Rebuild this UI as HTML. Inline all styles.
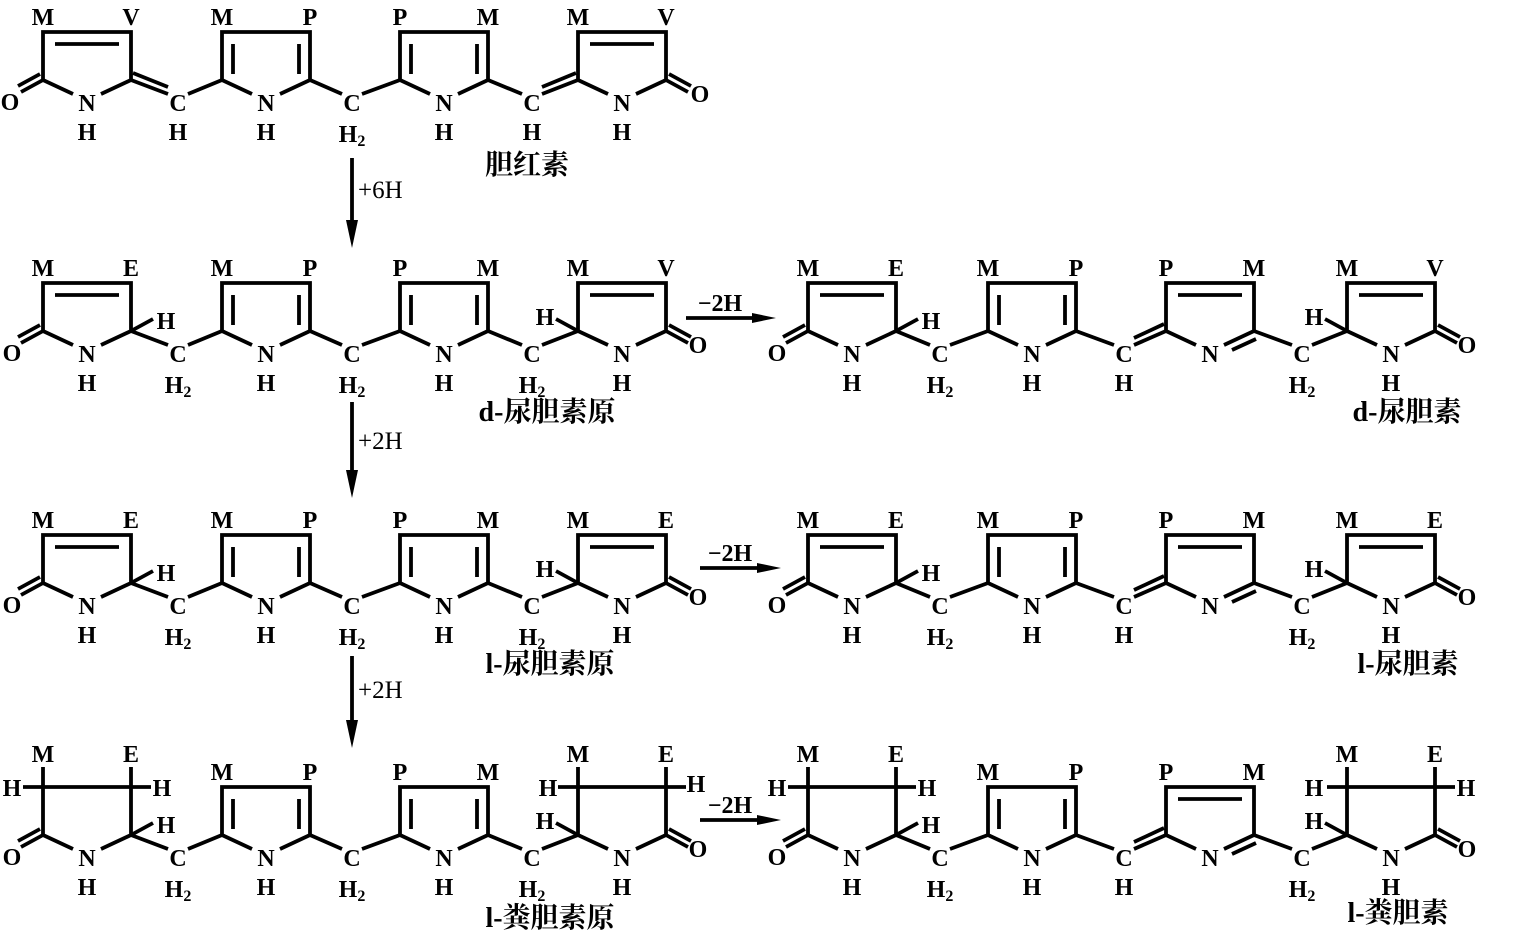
<!DOCTYPE html>
<html><head><meta charset="utf-8"><style>
html,body{margin:0;padding:0;background:#fff;}
svg{display:block;}
.t{font-family:"Liberation Serif",serif;font-weight:bold;font-size:24px;text-anchor:middle;fill:#000;}
.s{font-size:16px;}
.cn{font-family:"Liberation Serif","Noto Serif CJK SC","Noto Sans CJK SC",serif;font-size:28px;font-weight:bold;text-anchor:middle;fill:#000;}
.l{stroke:#000;stroke-width:3.8;fill:none;stroke-linejoin:miter;}
</style></head><body>
<svg width="1522" height="936" viewBox="0 0 1522 936" xmlns="http://www.w3.org/2000/svg">
<defs>
<path id="ring" class="l" d="M0,48 V0 H88 V48 M0,48 L30,62 M88,48 L58,62"/>
<path id="satring" class="l" d="M0,48 V-20 M88,48 V-20 M-20,0 H108 M0,48 L30,62 M88,48 L58,62"/>
<path id="dtop" class="l" d="M12,12 H76"/>
<path id="dsides" class="l" d="M11,12 V42 M77,12 V42"/>
<path id="lacL" class="l" d="M0,48 L-22,60 M-3,42 L-25,54"/>
<path id="lacR" class="l" d="M88,48 L110,60 M91,42 L113,54"/>
<path id="brH" class="l" d="M88,48 L110,36"/>
<path id="blH" class="l" d="M0,48 L-22,36"/>
<path id="imine" class="l" d="M90,56 L66,67"/>
</defs>

<!-- ROW 1 -->
<g transform="translate(0,32)">
<use href="#ring" x="43"/><use href="#dtop" x="43"/><use href="#lacL" x="43"/>
<use href="#ring" x="222"/><use href="#dsides" x="222"/>
<use href="#ring" x="400"/><use href="#dsides" x="400"/>
<use href="#ring" x="578"/><use href="#dtop" x="578"/><use href="#lacR" x="578"/>
<path class="l" d="M131,48 L168,62 M188,62 L222,48 M133,41 L168,55 M310,48 L342,62 M362,62 L400,48 M488,48 L522,62 M542,62 L578,48 M542,55 L576,41"/>
<text class="t" x="43" y="-7">M</text><text class="t" x="131" y="-7">V</text>
<text class="t" x="222" y="-7">M</text><text class="t" x="310" y="-7">P</text>
<text class="t" x="400" y="-7">P</text><text class="t" x="488" y="-7">M</text>
<text class="t" x="578" y="-7">M</text><text class="t" x="666" y="-7">V</text>
<text class="t" x="10" y="78">O</text><text class="t" x="700" y="70">O</text>
<text class="t" x="87" y="79">N</text><text class="t" x="87" y="108">H</text>
<text class="t" x="266" y="79">N</text><text class="t" x="266" y="108">H</text>
<text class="t" x="444" y="79">N</text><text class="t" x="444" y="108">H</text>
<text class="t" x="622" y="79">N</text><text class="t" x="622" y="108">H</text>
<text class="t" x="178" y="79">C</text><text class="t" x="178" y="108">H</text>
<text class="t" x="352" y="79">C</text><text class="t" x="352" y="110">H<tspan class="s" dy="4">2</tspan></text>
<text class="t" x="532" y="79">C</text><text class="t" x="532" y="108">H</text>
</g>
<text class="cn" x="527" y="174">胆红素</text>

<!-- ROW 2 -->
<g transform="translate(0,283)">
<use href="#ring" x="43"/><use href="#dtop" x="43"/><use href="#lacL" x="43"/><use href="#brH" x="43"/>
<use href="#ring" x="222"/><use href="#dsides" x="222"/>
<use href="#ring" x="400"/><use href="#dsides" x="400"/>
<use href="#ring" x="578"/><use href="#dtop" x="578"/><use href="#lacR" x="578"/><use href="#blH" x="578"/>
<path class="l" d="M131,48 L168,62 M188,62 L222,48 M310,48 L342,62 M362,62 L400,48 M488,48 L522,62 M542,62 L578,48"/>
<text class="t" x="43" y="-7">M</text><text class="t" x="131" y="-7">E</text>
<text class="t" x="222" y="-7">M</text><text class="t" x="310" y="-7">P</text>
<text class="t" x="400" y="-7">P</text><text class="t" x="488" y="-7">M</text>
<text class="t" x="578" y="-7">M</text><text class="t" x="666" y="-7">V</text>
<text class="t" x="12" y="78">O</text><text class="t" x="698" y="70">O</text>
<text class="t" x="166" y="46">H</text><text class="t" x="545" y="42">H</text>
<text class="t" x="87" y="79">N</text><text class="t" x="87" y="108">H</text>
<text class="t" x="266" y="79">N</text><text class="t" x="266" y="108">H</text>
<text class="t" x="444" y="79">N</text><text class="t" x="444" y="108">H</text>
<text class="t" x="622" y="79">N</text><text class="t" x="622" y="108">H</text>
<text class="t" x="178" y="79">C</text><text class="t" x="178" y="110">H<tspan class="s" dy="4">2</tspan></text>
<text class="t" x="352" y="79">C</text><text class="t" x="352" y="110">H<tspan class="s" dy="4">2</tspan></text>
<text class="t" x="532" y="79">C</text><text class="t" x="532" y="110">H<tspan class="s" dy="4">2</tspan></text>
<use href="#ring" x="808"/><use href="#dtop" x="808"/><use href="#lacL" x="808"/><use href="#brH" x="808"/>
<use href="#ring" x="988"/><use href="#dsides" x="988"/>
<use href="#ring" x="1166"/><use href="#dtop" x="1166"/><use href="#imine" x="1166"/>
<use href="#ring" x="1347"/><use href="#dtop" x="1347"/><use href="#lacR" x="1347"/><use href="#blH" x="1347"/>
<path class="l" d="M896,48 L930,62 M950,62 L988,48 M1076,48 L1114,62 M1134,62 L1166,48 M1134,55 L1164,41 M1254,48 L1292,62 M1312,62 L1347,48"/>
<text class="t" x="808" y="-7">M</text><text class="t" x="896" y="-7">E</text>
<text class="t" x="988" y="-7">M</text><text class="t" x="1076" y="-7">P</text>
<text class="t" x="1166" y="-7">P</text><text class="t" x="1254" y="-7">M</text>
<text class="t" x="1347" y="-7">M</text><text class="t" x="1435" y="-7">V</text>
<text class="t" x="777" y="78">O</text><text class="t" x="1467" y="70">O</text>
<text class="t" x="931" y="46">H</text><text class="t" x="1314" y="42">H</text>
<text class="t" x="852" y="79">N</text><text class="t" x="852" y="108">H</text>
<text class="t" x="1032" y="79">N</text><text class="t" x="1032" y="108">H</text>
<text class="t" x="1210" y="79">N</text>
<text class="t" x="1391" y="79">N</text><text class="t" x="1391" y="108">H</text>
<text class="t" x="940" y="79">C</text><text class="t" x="940" y="110">H<tspan class="s" dy="4">2</tspan></text>
<text class="t" x="1124" y="79">C</text><text class="t" x="1124" y="108">H</text>
<text class="t" x="1302" y="79">C</text><text class="t" x="1302" y="110">H<tspan class="s" dy="4">2</tspan></text>
</g>
<text class="cn" x="547" y="421">d-尿胆素原</text>
<text class="cn" x="1407" y="421">d-尿胆素</text>

<!-- ROW 3 -->
<g transform="translate(0,535)">
<use href="#ring" x="43"/><use href="#dtop" x="43"/><use href="#lacL" x="43"/><use href="#brH" x="43"/>
<use href="#ring" x="222"/><use href="#dsides" x="222"/>
<use href="#ring" x="400"/><use href="#dsides" x="400"/>
<use href="#ring" x="578"/><use href="#dtop" x="578"/><use href="#lacR" x="578"/><use href="#blH" x="578"/>
<path class="l" d="M131,48 L168,62 M188,62 L222,48 M310,48 L342,62 M362,62 L400,48 M488,48 L522,62 M542,62 L578,48"/>
<text class="t" x="43" y="-7">M</text><text class="t" x="131" y="-7">E</text>
<text class="t" x="222" y="-7">M</text><text class="t" x="310" y="-7">P</text>
<text class="t" x="400" y="-7">P</text><text class="t" x="488" y="-7">M</text>
<text class="t" x="578" y="-7">M</text><text class="t" x="666" y="-7">E</text>
<text class="t" x="12" y="78">O</text><text class="t" x="698" y="70">O</text>
<text class="t" x="166" y="46">H</text><text class="t" x="545" y="42">H</text>
<text class="t" x="87" y="79">N</text><text class="t" x="87" y="108">H</text>
<text class="t" x="266" y="79">N</text><text class="t" x="266" y="108">H</text>
<text class="t" x="444" y="79">N</text><text class="t" x="444" y="108">H</text>
<text class="t" x="622" y="79">N</text><text class="t" x="622" y="108">H</text>
<text class="t" x="178" y="79">C</text><text class="t" x="178" y="110">H<tspan class="s" dy="4">2</tspan></text>
<text class="t" x="352" y="79">C</text><text class="t" x="352" y="110">H<tspan class="s" dy="4">2</tspan></text>
<text class="t" x="532" y="79">C</text><text class="t" x="532" y="110">H<tspan class="s" dy="4">2</tspan></text>
<use href="#ring" x="808"/><use href="#dtop" x="808"/><use href="#lacL" x="808"/><use href="#brH" x="808"/>
<use href="#ring" x="988"/><use href="#dsides" x="988"/>
<use href="#ring" x="1166"/><use href="#dtop" x="1166"/><use href="#imine" x="1166"/>
<use href="#ring" x="1347"/><use href="#dtop" x="1347"/><use href="#lacR" x="1347"/><use href="#blH" x="1347"/>
<path class="l" d="M896,48 L930,62 M950,62 L988,48 M1076,48 L1114,62 M1134,62 L1166,48 M1134,55 L1164,41 M1254,48 L1292,62 M1312,62 L1347,48"/>
<text class="t" x="808" y="-7">M</text><text class="t" x="896" y="-7">E</text>
<text class="t" x="988" y="-7">M</text><text class="t" x="1076" y="-7">P</text>
<text class="t" x="1166" y="-7">P</text><text class="t" x="1254" y="-7">M</text>
<text class="t" x="1347" y="-7">M</text><text class="t" x="1435" y="-7">E</text>
<text class="t" x="777" y="78">O</text><text class="t" x="1467" y="70">O</text>
<text class="t" x="931" y="46">H</text><text class="t" x="1314" y="42">H</text>
<text class="t" x="852" y="79">N</text><text class="t" x="852" y="108">H</text>
<text class="t" x="1032" y="79">N</text><text class="t" x="1032" y="108">H</text>
<text class="t" x="1210" y="79">N</text>
<text class="t" x="1391" y="79">N</text><text class="t" x="1391" y="108">H</text>
<text class="t" x="940" y="79">C</text><text class="t" x="940" y="110">H<tspan class="s" dy="4">2</tspan></text>
<text class="t" x="1124" y="79">C</text><text class="t" x="1124" y="108">H</text>
<text class="t" x="1302" y="79">C</text><text class="t" x="1302" y="110">H<tspan class="s" dy="4">2</tspan></text>
</g>
<text class="cn" x="550" y="673">l-尿胆素原</text>
<text class="cn" x="1408" y="673">l-尿胆素</text>

<!-- ROW 4 -->
<g transform="translate(0,787)">
<use href="#satring" x="43"/><use href="#lacL" x="43"/><use href="#brH" x="43"/>
<use href="#ring" x="222"/><use href="#dsides" x="222"/>
<use href="#ring" x="400"/><use href="#dsides" x="400"/>
<use href="#satring" x="578"/><use href="#lacR" x="578"/><use href="#blH" x="578"/>
<path class="l" d="M131,48 L168,62 M188,62 L222,48 M310,48 L342,62 M362,62 L400,48 M488,48 L522,62 M542,62 L578,48"/>
<text class="t" x="43" y="-25">M</text><text class="t" x="131" y="-25">E</text>
<text class="t" x="222" y="-7">M</text><text class="t" x="310" y="-7">P</text>
<text class="t" x="400" y="-7">P</text><text class="t" x="488" y="-7">M</text>
<text class="t" x="578" y="-25">M</text><text class="t" x="666" y="-25">E</text>
<text class="t" x="12" y="9">H</text><text class="t" x="162" y="9">H</text>
<text class="t" x="548" y="9">H</text><text class="t" x="696" y="5">H</text>
<text class="t" x="12" y="78">O</text><text class="t" x="698" y="70">O</text>
<text class="t" x="166" y="46">H</text><text class="t" x="545" y="42">H</text>
<text class="t" x="87" y="79">N</text><text class="t" x="87" y="108">H</text>
<text class="t" x="266" y="79">N</text><text class="t" x="266" y="108">H</text>
<text class="t" x="444" y="79">N</text><text class="t" x="444" y="108">H</text>
<text class="t" x="622" y="79">N</text><text class="t" x="622" y="108">H</text>
<text class="t" x="178" y="79">C</text><text class="t" x="178" y="110">H<tspan class="s" dy="4">2</tspan></text>
<text class="t" x="352" y="79">C</text><text class="t" x="352" y="110">H<tspan class="s" dy="4">2</tspan></text>
<text class="t" x="532" y="79">C</text><text class="t" x="532" y="110">H<tspan class="s" dy="4">2</tspan></text>
<use href="#satring" x="808"/><use href="#lacL" x="808"/><use href="#brH" x="808"/>
<use href="#ring" x="988"/><use href="#dsides" x="988"/>
<use href="#ring" x="1166"/><use href="#dtop" x="1166"/><use href="#imine" x="1166"/>
<use href="#satring" x="1347"/><use href="#lacR" x="1347"/><use href="#blH" x="1347"/>
<path class="l" d="M896,48 L930,62 M950,62 L988,48 M1076,48 L1114,62 M1134,62 L1166,48 M1134,55 L1164,41 M1254,48 L1292,62 M1312,62 L1347,48"/>
<text class="t" x="808" y="-25">M</text><text class="t" x="896" y="-25">E</text>
<text class="t" x="988" y="-7">M</text><text class="t" x="1076" y="-7">P</text>
<text class="t" x="1166" y="-7">P</text><text class="t" x="1254" y="-7">M</text>
<text class="t" x="1347" y="-25">M</text><text class="t" x="1435" y="-25">E</text>
<text class="t" x="777" y="9">H</text><text class="t" x="927" y="9">H</text>
<text class="t" x="1314" y="9">H</text><text class="t" x="1466" y="9">H</text>
<text class="t" x="777" y="78">O</text><text class="t" x="1467" y="70">O</text>
<text class="t" x="931" y="46">H</text><text class="t" x="1314" y="42">H</text>
<text class="t" x="852" y="79">N</text><text class="t" x="852" y="108">H</text>
<text class="t" x="1032" y="79">N</text><text class="t" x="1032" y="108">H</text>
<text class="t" x="1210" y="79">N</text>
<text class="t" x="1391" y="79">N</text><text class="t" x="1391" y="108">H</text>
<text class="t" x="940" y="79">C</text><text class="t" x="940" y="110">H<tspan class="s" dy="4">2</tspan></text>
<text class="t" x="1124" y="79">C</text><text class="t" x="1124" y="108">H</text>
<text class="t" x="1302" y="79">C</text><text class="t" x="1302" y="110">H<tspan class="s" dy="4">2</tspan></text>
</g>
<text class="cn" x="550" y="927">l-粪胆素原</text>
<text class="cn" x="1398" y="922">l-粪胆素</text>

<!-- vertical arrows -->
<g>
<line class="l" x1="352" y1="158" x2="352" y2="222"/><polygon points="346,220 358,220 352,248"/>
<line class="l" x1="352" y1="402" x2="352" y2="472"/><polygon points="346,470 358,470 352,498"/>
<line class="l" x1="352" y1="656" x2="352" y2="722"/><polygon points="346,720 358,720 352,748"/>
<text class="t" x="358" y="198" style="text-anchor:start;font-weight:normal;font-size:25px">+6H</text>
<text class="t" x="358" y="449" style="text-anchor:start;font-weight:normal;font-size:25px">+2H</text>
<text class="t" x="358" y="698" style="text-anchor:start;font-weight:normal;font-size:25px">+2H</text>
</g>
<!-- horizontal arrows -->
<g>
<line class="l" x1="686" y1="318" x2="755" y2="318"/><polygon points="752,313 752,323 776,318"/>
<text class="t" x="720" y="311">−2H</text>
<line class="l" x1="700" y1="568" x2="760" y2="568"/><polygon points="757,563 757,573 781,568"/>
<text class="t" x="730" y="561">−2H</text>
<line class="l" x1="700" y1="820" x2="760" y2="820"/><polygon points="757,815 757,825 781,820"/>
<text class="t" x="730" y="813">−2H</text>
</g>
</svg>
</body></html>
